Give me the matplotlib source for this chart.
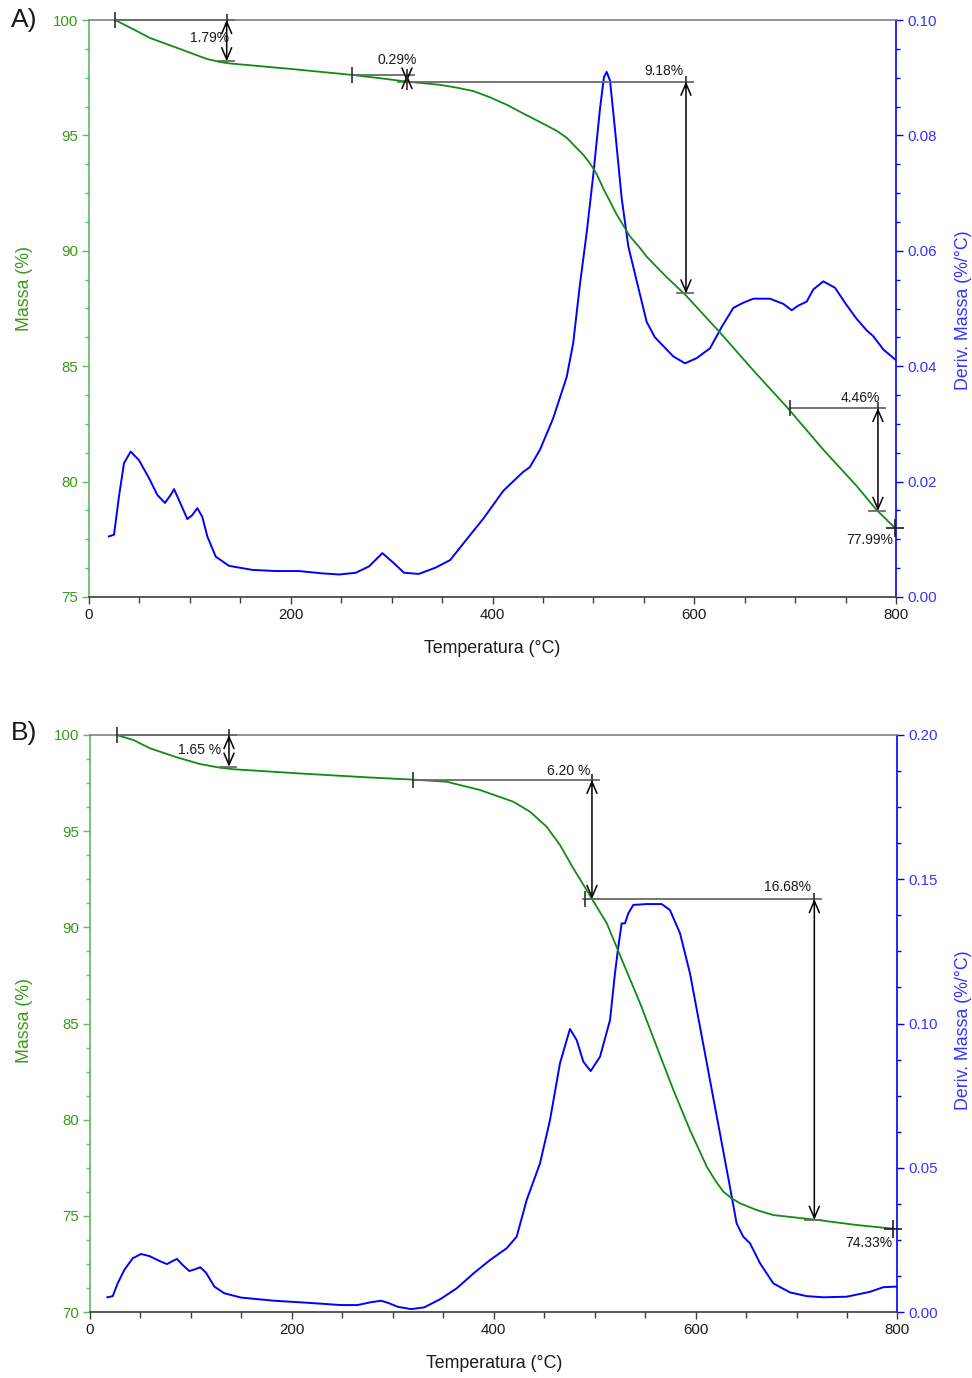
import matplotlib
matplotlib.use("Agg")
import matplotlib.pyplot as plt
from matplotlib.ticker import MultipleLocator, FormatStrFormatter

plt.rcParams['font.family'] = ['Liberation Sans', 'DejaVu Sans']

# ---------------- DATA: panel A ----------------
a_mass_T = [25.8, 43.9, 60.5, 93, 117, 130, 139, 200, 261, 290, 315, 348, 364.5, 381,
            397.5, 414, 430.5, 447, 463.6, 473.5, 483.5, 490, 496.6, 503, 509.8, 516.5,
            523, 529.7, 536, 546.2, 552.8, 559.4, 572.6, 591, 625.5, 658.5, 693, 728,
            761, 780.8, 799]
a_mass = [100.0, 99.60, 99.22, 98.70, 98.31, 98.18, 98.12, 97.88, 97.62, 97.47, 97.33,
          97.19, 97.07, 96.92, 96.65, 96.33, 95.95, 95.58, 95.20, 94.90, 94.45, 94.16,
          93.79, 93.35, 92.70, 92.14, 91.58, 91.10, 90.64, 90.12, 89.75, 89.45, 88.86,
          88.10, 86.46, 84.82, 83.17, 81.38, 79.81, 78.77, 77.99]

a_dtg_T = [19.8, 24.8, 29.7, 34.7, 41.3, 49.6, 59.5, 67.7, 75.3, 81, 84.3, 89.2, 97.5,
           102.4, 107.4, 112.3, 117.3, 125.6, 138.8, 161.9, 185, 208, 231, 248, 264.4,
           277.6, 290.8, 300.7, 312.3, 327, 343.7, 358, 374.4, 391, 410.7, 430.5, 437,
           447, 460, 473.5, 480, 486.7, 493.4, 500, 506.6, 510.5, 513.2, 516.5, 521.4,
           528, 534.6, 542.9, 552.8, 561, 569.3, 579.2, 590.8, 602.4, 615.6, 627.2,
           638.7, 648.6, 658.5, 675, 688.3, 696.6, 703.2, 711.5, 718, 728, 739.5, 751,
           761, 771, 777.5, 787.4, 799]
a_dtg = [0.0105, 0.0108, 0.0174, 0.0232, 0.0252, 0.0237, 0.0206, 0.0177, 0.0163, 0.0177,
         0.0187, 0.0168, 0.0135, 0.0142, 0.0154, 0.0139, 0.0105, 0.0070, 0.0054, 0.0047,
         0.0045, 0.0045, 0.0041, 0.0039, 0.0042, 0.0053, 0.0076, 0.0061, 0.0042, 0.0040,
         0.0051, 0.0064, 0.0100, 0.0136, 0.0184, 0.0217, 0.0225, 0.0255, 0.0309, 0.0381,
         0.0440, 0.0542, 0.0632, 0.0733, 0.0847, 0.0901, 0.0910, 0.0895, 0.0811, 0.0692,
         0.0608, 0.0548, 0.0477, 0.0450, 0.0435, 0.0417, 0.0405, 0.0414, 0.0431, 0.0468,
         0.0501, 0.0510, 0.0517, 0.0517, 0.0508, 0.0497, 0.0505, 0.0512, 0.0533, 0.0547,
         0.0536, 0.0506, 0.0482, 0.0462, 0.0452, 0.0429, 0.0412]

# steps: start T, arrow T, upper mass, lower mass, label
a_steps = [
    (25.8, 136.5, 100.0, 98.21, "1.79%"),
    (260.7, 315.2, 97.62, 97.33, "0.29%"),
    (315.2, 591.8, 97.33, 88.15, "9.18%"),
    (694.9, 782.1, 83.19, 78.73, "4.46%"),
]
a_residue = (799.0, 77.99, "77.99%")

# ---------------- DATA: panel B ----------------
b_mass_T = [26.4, 43, 59.4, 85.9, 109, 128.8, 142, 208, 274, 320, 353.4, 386.4, 419.4,
            436, 452.4, 465.6, 478.8, 492, 497.4, 512, 528.4, 545, 561.5, 578, 594.4,
            602.7, 611, 619.2, 627.4, 635.7, 644, 660.5, 677, 718.4, 760, 796]
b_mass = [100.0, 99.74, 99.31, 98.84, 98.49, 98.30, 98.22, 98.00, 97.80, 97.68, 97.57,
          97.14, 96.53, 96.01, 95.23, 94.28, 93.07, 91.94, 91.47, 90.21, 88.13, 86.05,
          83.79, 81.54, 79.46, 78.51, 77.56, 76.86, 76.26, 75.91, 75.65, 75.30, 75.04,
          74.80, 74.52, 74.33]

b_dtg_T = [17.2, 22.5, 27.4, 34, 42.3, 50.5, 58.8, 68.7, 76.3, 82, 86.2, 91.8, 98.4, 104,
           109.3, 115, 123.2, 133, 149.6, 182.6, 215.6, 248.7, 265, 278.4, 288.3, 295,
           305, 318, 331, 346.8, 363.3, 380, 396.3, 412.8, 422.7, 432.6, 445.8, 455.7,
           465.6, 475.5, 482.1, 488.7, 496, 505.3, 515.2, 520.1, 523.4, 526.7, 530,
           533.3, 538.3, 551.5, 566.4, 574.6, 584.5, 594.4, 604.3, 614.2, 624.1, 634,
           640.6, 647.2, 653.9, 663.8, 677, 693.5, 710, 726.5, 749.6, 772.8, 786, 799]
b_dtg = [0.0051, 0.0055, 0.0099, 0.0146, 0.0186, 0.0201, 0.0194, 0.0177, 0.0166, 0.0177,
         0.0184, 0.0163, 0.0142, 0.0148, 0.0155, 0.0136, 0.0088, 0.0065, 0.0050, 0.0039,
         0.0032, 0.0024, 0.0024, 0.0034, 0.0039, 0.0032, 0.0018, 0.0010, 0.0016, 0.0044,
         0.0082, 0.0134, 0.0180, 0.0221, 0.0261, 0.0388, 0.0515, 0.0665, 0.0862, 0.0981,
         0.0943, 0.0868, 0.0835, 0.0885, 0.1012, 0.1174, 0.1266, 0.1347, 0.1347, 0.1382,
         0.1411, 0.1414, 0.1414, 0.1393, 0.1313, 0.1174, 0.0989, 0.0804, 0.0619, 0.0434,
         0.0307, 0.0261, 0.0238, 0.0169, 0.0099, 0.0068, 0.0055, 0.0051, 0.0053, 0.0070,
         0.0086, 0.0088]

b_steps = [
    (26.5, 137.7, 100.0, 98.35, "1.65 %"),
    (320.0, 497.3, 97.67, 91.47, "6.20 %"),
    (490.0, 717.6, 91.47, 74.79, "16.68%"),
]
b_residue = (795.8, 74.33, "74.33%")

x_ticks = [0, 200, 400, 600, 800]

# ---------------- STYLE ----------------
GREEN = '#138a13'
GREEN_SPINE = '#62b862'
GREEN_TXT = '#3a9a1a'
BLUE = '#0000ff'
BLUE_TXT = '#3333ff'
GRAY = '#6a6a6a'
TICK_FS = 10.8
LAB_FS = 12.8
ANN_FS = 10

fig = plt.figure(figsize=(9.72, 13.78), dpi=100)

W, H = 972.0, 1378.0


def make_panel(rect, mass_T, mass, dtg_T, dtg, ylim, dlim, dmaj, dmin, steps, residue,
               text_pos, res_pos, ylab_xy, dlab_xy):
    ax = fig.add_axes(rect)
    ax2 = ax.twinx()
    ax.set_zorder(ax2.get_zorder() + 1)
    ax.patch.set_visible(False)

    ax2.plot(dtg_T, dtg, color=BLUE, lw=1.4)
    ax.plot(mass_T, mass, color=GREEN, lw=1.3)

    ax.set_xlim(0, 800)
    ax.set_ylim(*ylim)
    ax2.set_ylim(*dlim)

    ax.xaxis.set_major_locator(MultipleLocator(200))
    ax.xaxis.set_minor_locator(MultipleLocator(50))
    ax.set_xticks(x_ticks)
    ax.yaxis.set_major_locator(MultipleLocator(5))
    ax.yaxis.set_minor_locator(MultipleLocator(1.25))
    ax2.yaxis.set_major_locator(MultipleLocator(dmaj))
    ax2.yaxis.set_minor_locator(MultipleLocator(dmin))
    ax2.yaxis.set_major_formatter(FormatStrFormatter('%.2f'))

    ax.spines['right'].set_visible(False)
    ax.spines['left'].set_color(GREEN_SPINE)
    ax.spines['left'].set_linewidth(1.2)
    ax.spines['top'].set_color('#808080')
    ax.spines['top'].set_linewidth(1.2)
    ax.spines['bottom'].set_color('#3c3c3c')
    ax.spines['bottom'].set_linewidth(1.2)
    for s in ['left', 'top', 'bottom']:
        ax2.spines[s].set_visible(False)
    ax2.spines['right'].set_color(BLUE)
    ax2.spines['right'].set_linewidth(1.2)

    ax.tick_params(axis='y', which='major', direction='out', length=5, width=1,
                   color=GREEN_SPINE, labelcolor=GREEN_TXT, labelsize=TICK_FS, pad=3)
    ax.tick_params(axis='y', which='minor', direction='out', length=3, width=1,
                   color=GREEN_SPINE)
    ax.tick_params(axis='x', which='major', direction='out', length=5, width=1,
                   color='#3c3c3c', labelcolor='#1a1a1a', labelsize=TICK_FS, pad=3)
    ax.tick_params(axis='x', which='minor', direction='out', length=4, width=1,
                   color='#3c3c3c')
    ax2.tick_params(axis='y', which='major', direction='out', length=5, width=1,
                    color=BLUE, labelcolor=BLUE_TXT, labelsize=TICK_FS, pad=3)
    ax2.tick_params(axis='y', which='minor', direction='out', length=3, width=1,
                    color=BLUE)

    ax.set_xlabel('Temperatura (°C)', fontsize=LAB_FS, color='#1a1a1a')
    ax.xaxis.set_label_coords(0.5, -0.074)
    ax.set_ylabel('Massa (%)', fontsize=LAB_FS, color=GREEN_TXT)
    ax.yaxis.set_label_coords(*ylab_xy)
    ax2.set_ylabel('Deriv. Massa (%/°C)', fontsize=LAB_FS, color=BLUE_TXT)
    ax2.yaxis.set_label_coords(*dlab_xy)

    # step annotations
    for i, (t0, ta, mtop, mbot, lab) in enumerate(steps):
        ax.plot([t0, ta + 7], [mtop, mtop], color=GRAY, lw=1.3, zorder=4, clip_on=False)
        ax.plot([ta - 9, ta + 7], [mbot, mbot], color=GRAY, lw=1.3, zorder=4)
        ax.plot([t0], [mtop], marker='|', ms=11, mew=1.2, color='#303030', zorder=5,
                clip_on=False)
        ax.plot([ta], [mtop], marker='|', ms=8, mew=1.2, color='#303030', zorder=5,
                clip_on=False)
        ax.annotate('', xy=(ta, mbot), xytext=(ta, mtop),
                    arrowprops=dict(arrowstyle='<->,head_length=0.7,head_width=0.3',
                                    color='black', lw=1.1, shrinkA=0, shrinkB=0,
                                    mutation_scale=12), zorder=5)
        tx, ty, ha = text_pos[i]
        ax.text(tx, ty, lab, fontsize=ANN_FS, color='#1a1a1a', ha=ha, va='center',
                zorder=6)
    tr, mr, labr = residue
    ax.plot([tr], [mr], marker='+', ms=13, mew=1.2, color='#202020', zorder=5,
            clip_on=False)
    ax.text(res_pos[0], res_pos[1], labr, fontsize=ANN_FS, color='#1a1a1a', ha='right',
            va='center', zorder=6)
    return ax, ax2


# panel A
a_text_pos = [(139, 99.22, 'right'), (306, 98.27, 'center'), (589.5, 97.79, 'right'),
              (784.5, 83.62, 'right')]
a_res_pos = (797, 77.47)
make_panel([89 / W, 1 - 597 / H, 807 / W, 577 / H], a_mass_T, a_mass, a_dtg_T, a_dtg,
           (75, 100), (0, 0.10), 0.02, 0.005, a_steps, a_residue, a_text_pos,
           a_res_pos, (-0.069, 0.535), (1.073, 0.497))

# panel B
b_text_pos = [(129.5, 99.22, 'right'), (496, 98.15, 'right'), (714, 92.11, 'right')]
b_res_pos = (795, 73.61)
make_panel([90 / W, 1 - 1312 / H, 807.5 / W, 577 / H], b_mass_T, b_mass, b_dtg_T, b_dtg,
           (70, 100), (0, 0.20), 0.05, 0.0125, b_steps, b_residue, b_text_pos,
           b_res_pos, (-0.0706, 0.506), (1.071, 0.489))

fig.text(11 / W, 1 - 20 / H, 'A)', fontsize=19, va='center', ha='left', color='#1a1a1a')
fig.text(11 / W, 1 - 733 / H, 'B)', fontsize=19, va='center', ha='left', color='#1a1a1a')

fig.savefig('out.png', dpi=100)
